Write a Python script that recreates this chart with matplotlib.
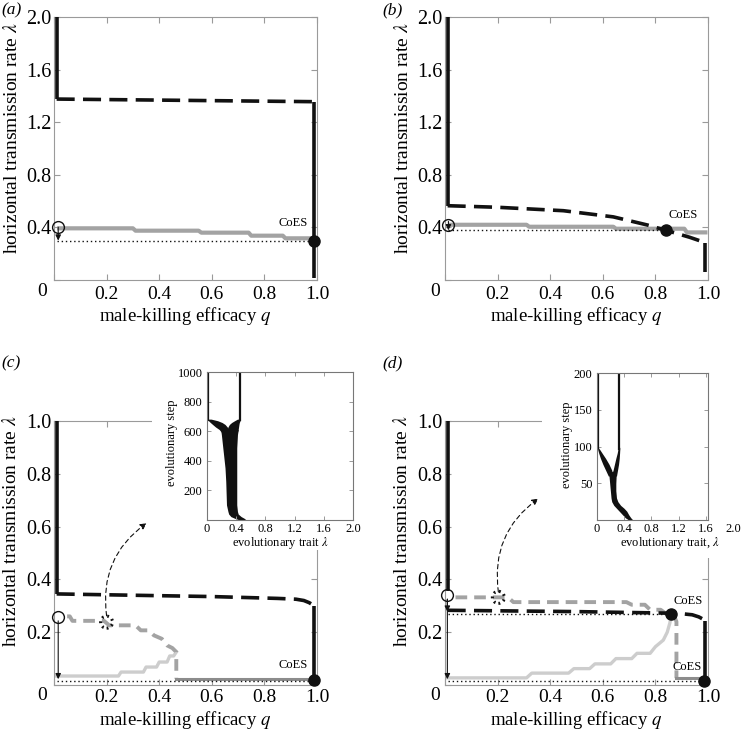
import matplotlib
matplotlib.use('Agg')
import matplotlib.pyplot as plt
from matplotlib.patches import Rectangle

plt.rcParams['font.family'] = ['Liberation Serif', 'DejaVu Serif']
plt.rcParams['mathtext.fontset'] = 'stix'

# ---------------- data ----------------
# panel (a)
a_left_q, a_left_lam = [0.01, 0.01], [2.0, 1.376]
a_dash_q, a_dash_lam = [0.01, 0.99], [1.376, 1.356]
a_right_q, a_right_lam = [0.99, 0.99], [1.356, 0.015]
a_gray_q = [0.02, 0.30, 0.31, 0.55, 0.56, 0.74, 0.75, 0.87, 0.88, 0.99]
a_gray_lam = [0.393, 0.393, 0.375, 0.375, 0.36, 0.36, 0.337, 0.337, 0.317, 0.317]
a_dot_q, a_dot_lam = [0.01, 0.99], [0.30, 0.30]
a_open = (0.016, 0.402)
a_coes = (0.99, 0.30)

# panel (b)
b_left_q, b_left_lam = [0.01, 0.01], [2.0, 0.565]
b_dash_q = [0.01, 0.2, 0.45, 0.64, 0.77, 0.84, 0.93, 0.99]
b_dash_lam = [0.565, 0.553, 0.527, 0.48, 0.418, 0.378, 0.325, 0.284]
b_right_q, b_right_lam = [0.99, 0.99], [0.284, 0.063]
b_gray_q = [0.02, 0.31, 0.32, 0.64, 0.65, 0.91, 0.92, 0.99]
b_gray_lam = [0.42, 0.42, 0.405, 0.405, 0.39, 0.39, 0.362, 0.362]
b_dot_q, b_dot_lam = [0.01, 0.84], [0.378, 0.378]
b_open = (0.013, 0.415)
b_coes = (0.84, 0.378)

# panel (c)
c_left_q, c_left_lam = [0.01, 0.01], [1.0, 0.345]
c_dash_q = [0.01, 0.3, 0.6, 0.85, 0.92, 0.95, 0.97, 0.99]
c_dash_lam = [0.345, 0.34, 0.335, 0.328, 0.325, 0.32, 0.312, 0.30]
c_right_q, c_right_lam = [0.99, 0.99], [0.30, 0.02]
c_gdash_q = [0.05, 0.06, 0.07, 0.19, 0.21, 0.31, 0.33, 0.36, 0.38, 0.41, 0.43, 0.45, 0.465, 0.465]
c_gdash_lam = [0.26, 0.26, 0.243, 0.243, 0.226, 0.226, 0.207, 0.207, 0.188, 0.175, 0.15, 0.14, 0.125, 0.024]
c_gbot_q, c_gbot_lam = [0.465, 0.99], [0.024, 0.024]
c_light_q = [0.01, 0.245, 0.255, 0.34, 0.35, 0.39, 0.40, 0.43, 0.44, 0.455, 0.465]
c_light_lam = [0.034, 0.034, 0.049, 0.049, 0.068, 0.068, 0.087, 0.087, 0.11, 0.11, 0.125]
c_dot_q, c_dot_lam = [0.01, 0.99], [0.016, 0.016]
c_open = (0.016, 0.258)
c_coes = (0.99, 0.018)
c_mark = (0.2, 0.238)
c_arrow = [(0.2, 0.262), (0.352, 0.613)]

# panel (d)
d_left_q, d_left_lam = [0.01, 0.01], [1.0, 0.355]
d_dash_q = [0.01, 0.5, 0.86, 0.9, 0.94, 0.965, 0.98, 0.99]
d_dash_lam = [0.283, 0.278, 0.272, 0.27, 0.266, 0.258, 0.25, 0.241]
d_right_q, d_right_lam = [0.99, 0.99], [0.241, 0.02]
d_gdash_q = [0.04, 0.24, 0.26, 0.69, 0.71, 0.76, 0.78, 0.82, 0.84, 0.87, 0.88, 0.88]
d_gdash_lam = [0.332, 0.332, 0.314, 0.314, 0.304, 0.304, 0.285, 0.285, 0.27, 0.265, 0.24, 0.026]
d_gbot_q, d_gbot_lam = [0.88, 0.99], [0.026, 0.026]
d_light_q = [0.01, 0.31, 0.33, 0.47, 0.49, 0.55, 0.57, 0.63, 0.65, 0.71, 0.73, 0.78, 0.80, 0.83, 0.845, 0.855, 0.86]
d_light_lam = [0.027, 0.027, 0.045, 0.045, 0.062, 0.062, 0.08, 0.08, 0.10, 0.10, 0.12, 0.12, 0.145, 0.17, 0.20, 0.235, 0.265]
d_dot1_q, d_dot1_lam = [0.01, 0.86], [0.27, 0.27]
d_dot2_q, d_dot2_lam = [0.01, 0.99], [0.014, 0.014]
d_open = (0.009, 0.34)
d_coes1 = (0.86, 0.27)
d_coes2 = (0.985, 0.016)
d_mark = (0.203, 0.332)
d_arrow = [(0.203, 0.352), (0.355, 0.706)]

# inset (c)
ci_trunk_step = [0, 12, 23, 40, 57, 102, 261, 352, 488, 579, 613]
ci_trunk_lo = [0.45, 0.38, 0.33, 0.30, 0.29, 0.27, 0.26, 0.25, 0.22, 0.20, 0.19]
ci_trunk_hi = [0.54, 0.51, 0.47, 0.43, 0.42, 0.41, 0.41, 0.41, 0.41, 0.42, 0.43]
ci_lb_step = [595, 613, 630, 647, 660, 672, 683]
ci_lb_lo = [0.20, 0.17, 0.12, 0.08, 0.05, 0.025, 0.015]
ci_lb_hi = [0.31, 0.30, 0.28, 0.25, 0.21, 0.15, 0.06]
ci_rb_step = [595, 613, 630, 647, 660, 672, 683]
ci_rb_lo = [0.27, 0.28, 0.29, 0.31, 0.34, 0.38, 0.42]
ci_rb_hi = [0.42, 0.43, 0.435, 0.44, 0.445, 0.455, 0.46]
ci_l1_lam, ci_l1_step = [0.02, 0.02], [680, 1000]
ci_l2_lam, ci_l2_step = [0.45, 0.45], [680, 1000]

# inset (d)
di_trunk_step = [0, 3, 7, 12, 16, 20, 25, 30, 40, 50, 60, 66]
di_trunk_lo = [0.47, 0.42, 0.38, 0.33, 0.29, 0.25, 0.22, 0.21, 0.20, 0.19, 0.18, 0.17]
di_trunk_hi = [0.53, 0.50, 0.47, 0.44, 0.40, 0.35, 0.31, 0.29, 0.28, 0.28, 0.285, 0.29]
di_lb_step = [60, 68, 76, 84, 91, 96, 99]
di_lb_lo = [0.17, 0.13, 0.09, 0.055, 0.03, 0.015, 0.01]
di_lb_hi = [0.24, 0.22, 0.18, 0.13, 0.08, 0.045, 0.02]
di_rb_step = [60, 68, 76, 84, 91, 96, 99]
di_rb_lo = [0.21, 0.24, 0.26, 0.28, 0.30, 0.31, 0.315]
di_rb_hi = [0.29, 0.305, 0.32, 0.33, 0.335, 0.338, 0.338]
di_l1_lam, di_l1_step = [0.014, 0.014], [98, 200]
di_l2_lam, di_l2_step = [0.33, 0.33], [97, 200]

# ---------------- style ----------------
W, H = 751, 731
fig = plt.figure(figsize=(W / 100, H / 100), dpi=100)

def rect(l, t, r, b):
    return [l / W, 1 - b / H, (r - l) / W, (b - t) / H]

SPINE = '#9a9a9a'
BLACK = '#111111'
GRAY = '#a3a3a3'
LGRAY = '#cdcdcd'
DASH = (0, (5, 2.3))
GDASH = (0, (3, 1.8))
DOT = (0, (1, 2))


def setup_main(ax, ylim, yticks, xpad, xlab_y, ylab_x, ylab_y, xlab_fs=13.5,
               xtick_fs=14):
    ax.set_xlim(0, 1)
    ax.set_ylim(*ylim)
    ax.set_xticks([0, 0.2, 0.4, 0.6, 0.8, 1.0])
    ax.set_xticklabels(['', '0.2', '0.4', '0.6', '0.8', '1.0'])
    ax.set_yticks([0] + yticks)
    ax.set_yticklabels([''] + ['%.1f' % v for v in yticks])
    ax.tick_params(direction='in', length=4, width=0.8, color=SPINE,
                   top=True, right=True, labelsize=14.5)
    ax.tick_params(axis='x', pad=xpad, labelsize=xtick_fs)
    ax.tick_params(axis='y', pad=2)
    for s in ax.spines.values():
        s.set_color(SPINE)
        s.set_linewidth(0.8)
    ax.set_xlabel('male-killing efficacy $q$', fontsize=xlab_fs, va='center')
    ax.xaxis.set_label_coords(0.5, xlab_y)
    ax.set_ylabel('horizontal transmission rate $\\lambda$', fontsize=14,
                  va='center')
    ax.yaxis.set_label_coords(ylab_x, ylab_y)


def black_solid(ax, x, y):
    ax.plot(x, y, color=BLACK, lw=2.6, solid_capstyle='butt', zorder=4)


def black_dash(ax, x, y):
    ax.plot(x, y, color=BLACK, lw=2.6, ls=DASH, zorder=4)


def dotted(ax, x, y):
    ax.plot(x, y, color=BLACK, lw=1.0, ls=DOT, zorder=3)


def open_circle(ax, p):
    ax.plot(*p, marker='o', ms=8.5, mfc='none', mec=BLACK, mew=1.0,
            zorder=6, clip_on=False)


def coes(ax, p, lab):
    ax.plot(*p, marker='o', ms=8, color=BLACK, zorder=7, clip_on=False)
    ax.text(lab[0], lab[1], 'CoES', fontsize=9, ha='center', va='center',
            zorder=8)


def down_arrow(ax, p0, p1):
    ax.annotate('', xy=p1, xytext=p0,
                arrowprops=dict(arrowstyle='-|>', lw=0.8, color=BLACK,
                                mutation_scale=8, shrinkA=0, shrinkB=0),
                zorder=6)


def curved_arrow(ax, p0, p1):
    ax.annotate('', xy=p1, xytext=p0,
                arrowprops=dict(arrowstyle='-|>', lw=0.8, color=BLACK,
                                ls=(0, (4, 3)), mutation_scale=9,
                                connectionstyle='arc3,rad=-0.3',
                                shrinkA=0, shrinkB=0),
                zorder=6)


def dotted_marker(ax, p):
    ax.scatter([p[0]], [p[1]], s=75, facecolors='none', edgecolors=BLACK,
               linewidths=2.2, linestyles=(0, (0.6, 1.2)), zorder=7)


# ---------------- panel (a) ----------------
axa = fig.add_axes(rect(54, 17, 317, 280))
setup_main(axa, (0, 2.0), [0.4, 0.8, 1.2, 1.6, 2.0], 4, -0.138, -0.16, 0.54)
axa.plot(a_gray_q, a_gray_lam, color=GRAY, lw=3.0, zorder=3)
dotted(axa, a_dot_q, a_dot_lam)
black_solid(axa, a_left_q, a_left_lam)
black_dash(axa, a_dash_q, a_dash_lam)
black_solid(axa, a_right_q, a_right_lam)
open_circle(axa, a_open)
down_arrow(axa, (a_open[0], a_open[1]), (a_open[0], a_dot_lam[0]))
coes(axa, a_coes, (0.91, 0.43))

# ---------------- panel (b) ----------------
axb = fig.add_axes(rect(445, 17, 708, 280))
setup_main(axb, (0, 2.0), [0.4, 0.8, 1.2, 1.6, 2.0], 4, -0.138, -0.16, 0.54)
axb.plot(b_gray_q, b_gray_lam, color=GRAY, lw=3.0, zorder=3)
dotted(axb, b_dot_q, b_dot_lam)
black_solid(axb, b_left_q, b_left_lam)
black_dash(axb, b_dash_q, b_dash_lam)
black_solid(axb, b_right_q, b_right_lam)
open_circle(axb, b_open)
down_arrow(axb, (b_open[0], b_open[1] + 0.03), (b_open[0], b_dot_lam[0]))
coes(axb, b_coes, (0.906, 0.494))

# ---------------- panel (c) ----------------
CT, CB = 421, 685
axc = fig.add_axes(rect(54, CT, 317, CB))
setup_main(axc, (0, 1.0), [0.2, 0.4, 0.6, 0.8, 1.0], 3, -0.133, -0.163, 0.583)
axc.plot(c_light_q, c_light_lam, color=LGRAY, lw=2.4, zorder=2)
axc.plot(c_gdash_q, c_gdash_lam, color=GRAY, lw=2.8, ls=GDASH, zorder=3)
axc.plot(c_gbot_q, c_gbot_lam, color='#8c8c8c', lw=2.2, zorder=3)
dotted(axc, c_dot_q, c_dot_lam)
black_solid(axc, c_left_q, c_left_lam)
black_dash(axc, c_dash_q, c_dash_lam)
black_solid(axc, c_right_q, c_right_lam)
open_circle(axc, c_open)
down_arrow(axc, (c_open[0], c_open[1] - 0.015), (c_open[0], 0.022))
coes(axc, c_coes, (0.91, 0.075))
dotted_marker(axc, c_mark)
curved_arrow(axc, c_arrow[0], c_arrow[1])

# ---------------- panel (d) ----------------
axd = fig.add_axes(rect(445, CT, 708, CB))
setup_main(axd, (0, 1.0), [0.2, 0.4, 0.6, 0.8, 1.0], 3, -0.133, -0.163, 0.583)
axd.plot(d_light_q, d_light_lam, color=LGRAY, lw=2.4, zorder=2)
axd.plot(d_gdash_q, d_gdash_lam, color=GRAY, lw=2.8, ls=GDASH, zorder=3)
axd.plot(d_gbot_q, d_gbot_lam, color='#8c8c8c', lw=2.2, zorder=3)
dotted(axd, d_dot1_q, d_dot1_lam)
dotted(axd, d_dot2_q, d_dot2_lam)
black_solid(axd, d_left_q, d_left_lam)
black_dash(axd, d_dash_q, d_dash_lam)
black_solid(axd, d_right_q, d_right_lam)
open_circle(axd, d_open)
down_arrow(axd, (d_open[0], d_open[1] - 0.015), (d_open[0], d_dash_lam[0] - 0.005))
down_arrow(axd, (d_open[0], d_open[1] - 0.015), (d_open[0], 0.022))
coes(axd, d_coes1, (0.925, 0.32))
coes(axd, d_coes2, (0.92, 0.068))
dotted_marker(axd, d_mark)
curved_arrow(axd, d_arrow[0], d_arrow[1])

# corner zeros and panel letters
for (x, y) in [(42, 292), (435, 292), (42, 696), (435, 696)]:
    fig.text(x / W, 1 - y / H, '0', fontsize=14, ha='center', va='center')
for (x, y, s) in [(1, 2, '(a)'), (382, 2, '(b)'), (1, 355, '(c)'), (382, 355, '(d)')]:
    fig.text(x / W, 1 - y / H, s, fontsize=12.5, style='italic', ha='left', va='top')

# white backgrounds behind insets
for (l, t, r, b) in [(152, 362, 362, 550), (542, 362, 751, 558)]:
    fig.patches.append(Rectangle((l / W, 1 - b / H), (r - l) / W, (b - t) / H,
                                 transform=fig.transFigure, facecolor='white',
                                 edgecolor='none', zorder=1))


def setup_inset(ax, xmax, ylim, yticks, xlabel, xl, yl):
    ax.set_zorder(2)
    ax.set_xlim(0, xmax)
    ax.set_ylim(*ylim)
    xt = [v for v in [0, 0.4, 0.8, 1.2, 1.6, 2.0] if v <= xmax + 1e-9]
    ax.set_xticks(xt)
    ax.set_xticklabels(['0' if v == 0 else '%.1f' % v for v in xt])
    ax.set_yticks(yticks)
    ax.set_yticklabels([str(v) for v in yticks])
    ax.tick_params(direction='in', length=3, width=0.7, color=SPINE,
                   top=True, right=True, labelsize=9)
    ax.tick_params(axis='x', pad=2)
    ax.tick_params(axis='y', pad=3)
    for s in ax.spines.values():
        s.set_color('#777777')
        s.set_linewidth(0.8)
    ax.set_xlabel(xlabel, fontsize=9, va='center')
    ax.xaxis.set_label_coords(*xl)
    ax.set_ylabel('evolutionary step', fontsize=9, va='center')
    ax.yaxis.set_label_coords(*yl)


# ---------------- inset (c) ----------------
axci = fig.add_axes(rect(206.7, 372.3, 353.3, 520))
setup_inset(axci, 2.0, (0, 1000), [200, 400, 600, 800, 1000],
            'evolutionary trait $\\lambda$', (0.5, -0.155), (-0.235, 0.52))
axci.fill_betweenx(ci_trunk_step, ci_trunk_lo, ci_trunk_hi, color=BLACK, lw=0)
axci.fill_betweenx(ci_lb_step, ci_lb_lo, ci_lb_hi, color=BLACK, lw=0)
axci.fill_betweenx(ci_rb_step, ci_rb_lo, ci_rb_hi, color=BLACK, lw=0)
axci.plot(ci_l1_lam, ci_l1_step, color=BLACK, lw=1.6)
axci.plot(ci_l2_lam, ci_l2_step, color=BLACK, lw=1.6)

# ---------------- inset (d) ----------------
di_xmax = 1.63
axdi = fig.add_axes(rect(596.7, 373.3, 708, 520))
setup_inset(axdi, di_xmax, (0, 200), [50, 100, 150, 200],
            'evolutionary trait, $\\lambda$', (0.66, -0.16), (-0.265, 0.51))
axdi.annotate('2.0', xy=(2.0, 0), xycoords=('data', 'axes fraction'),
              xytext=(0, -2), textcoords='offset points',
              fontsize=9, ha='center', va='top', annotation_clip=False)
axdi.fill_betweenx(di_trunk_step, di_trunk_lo, di_trunk_hi, color=BLACK, lw=0)
axdi.fill_betweenx(di_lb_step, di_lb_lo, di_lb_hi, color=BLACK, lw=0)
axdi.fill_betweenx(di_rb_step, di_rb_lo, di_rb_hi, color=BLACK, lw=0)
axdi.plot(di_l1_lam, di_l1_step, color=BLACK, lw=1.6)
axdi.plot(di_l2_lam, di_l2_step, color=BLACK, lw=1.6)

fig.savefig('out.png', dpi=100)
